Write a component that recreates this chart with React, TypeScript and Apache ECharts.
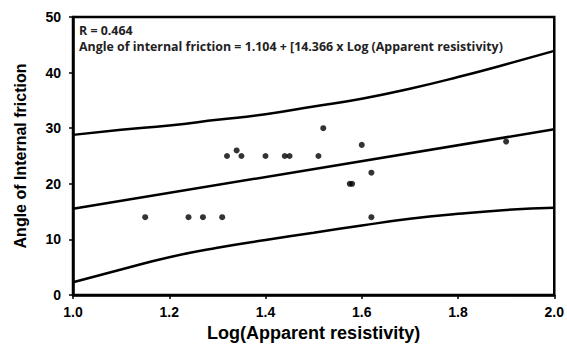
import React, { useEffect, useRef } from "react";
import * as echarts from "echarts";

const logResistivity = [1.15, 1.24, 1.27, 1.31, 1.32, 1.34, 1.35, 1.4, 1.44, 1.45, 1.51, 1.52, 1.6, 1.62, 1.575, 1.58, 1.62, 1.9];
const frictionAngle = [14, 14, 14, 14, 25, 26, 25, 25, 25, 25, 25, 30, 27, 22, 20, 20, 14, 27.6];

const bandX = [1.0, 1.1, 1.2, 1.3, 1.4, 1.5, 1.6, 1.7, 1.8, 1.9, 2.0];
const upperBand = [28.8, 29.7, 30.5, 31.5, 32.5, 33.9, 35.3, 37.1, 39.2, 41.5, 43.9];
const lowerBand = [2.3, 4.6, 6.8, 8.5, 9.9, 11.2, 12.5, 13.7, 14.6, 15.3, 15.7];
const fitX = [1.0, 2.0];
const fitY = [15.5, 29.8];

const xTicks = [1.0, 1.2, 1.4, 1.6, 1.8, 2.0];
const yTicks = [0, 10, 20, 30, 40, 50];

const rText = "R = 0.464";
const eqText = "Angle of internal friction = 1.104 + [14.366 x Log (Apparent resistivity)";

export default function App() {
  const ref = useRef<HTMLDivElement>(null);
  useEffect(() => {
    if (!ref.current) return;
    const chart = echarts.init(ref.current, null, { renderer: "svg" });
    const pair = (xs: number[], ys: number[]) => xs.map((x, i) => [x, ys[i]]);
    const lineStyle = { color: "#000", width: 2.5 };
    const annStyle = { fontFamily: "Open Sans", fontWeight: "bold", fontSize: 12.4, fill: "#222" };
    chart.setOption({
      animation: false,
      backgroundColor: "#fff",
      grid: {
        left: 73,
        right: 12,
        top: 17,
        bottom: 50,
        show: true,
        borderColor: "#000",
        borderWidth: 2.5,
        containLabel: false,
      },
      xAxis: {
        type: "value",
        min: xTicks[0],
        max: xTicks[xTicks.length - 1],
        interval: 0.2,
        name: "Log(Apparent resistivity)",
        nameLocation: "middle",
        nameGap: 29,
        nameTextStyle: { fontFamily: "Liberation Sans", fontWeight: "bold", fontSize: 18, color: "#000" },
        axisLine: { show: true, lineStyle: { color: "#000", width: 2.5 } },
        axisTick: { show: true, inside: false, length: 4, lineStyle: { color: "#000", width: 1.5 } },
        axisLabel: {
          formatter: (v: number) => v.toFixed(1),
          fontFamily: "Liberation Sans",
          fontWeight: "bold",
          fontSize: 14,
          color: "#000",
          margin: 10,
        },
        splitLine: { show: false },
      },
      yAxis: {
        type: "value",
        min: yTicks[0],
        max: yTicks[yTicks.length - 1],
        interval: 10,
        name: "Angle of Internal friction",
        nameLocation: "middle",
        nameGap: 45,
        nameRotate: 90,
        nameTextStyle: { fontFamily: "Liberation Sans", fontWeight: "bold", fontSize: 16, color: "#000" },
        axisLine: { show: true, lineStyle: { color: "#000", width: 2.5 } },
        axisTick: { show: true, inside: false, length: 4, lineStyle: { color: "#000", width: 1.5 } },
        axisLabel: {
          fontFamily: "Liberation Sans",
          fontWeight: "bold",
          fontSize: 14,
          color: "#000",
          margin: 12,
        },
        splitLine: { show: false },
      },
      graphic: [
        {
          type: "text",
          left: 79,
          top: 24,
          style: { text: rText, ...annStyle },
        },
        {
          type: "text",
          left: 79,
          top: 40,
          style: { text: eqText, ...annStyle },
        },
      ],
      series: [
        {
          type: "line",
          data: pair(bandX, upperBand),
          smooth: true,
          showSymbol: false,
          lineStyle,
          z: 2,
        },
        {
          type: "line",
          data: pair(fitX, fitY),
          showSymbol: false,
          lineStyle,
          z: 2,
        },
        {
          type: "line",
          data: pair(bandX, lowerBand),
          smooth: true,
          showSymbol: false,
          lineStyle,
          z: 2,
        },
        {
          type: "scatter",
          data: pair(logResistivity, frictionAngle),
          symbol: "circle",
          symbolSize: 6,
          itemStyle: { color: "#000" },
          z: 3,
        },
      ],
    });
    return () => chart.dispose();
  }, []);
  return (
    <div
      ref={ref}
      style={{ position: "fixed", left: 0, top: 0, width: 567, height: 347, background: "#fff" }}
    />
  );
}
